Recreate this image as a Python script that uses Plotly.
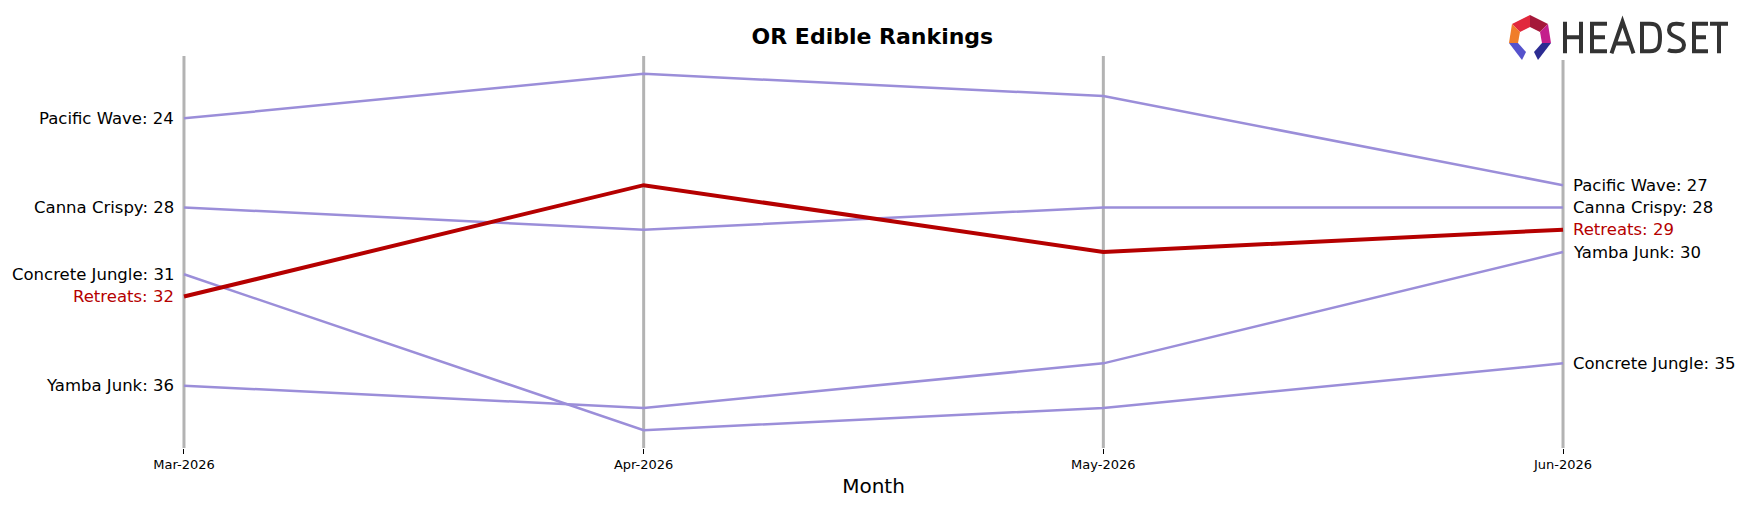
import plotly.graph_objects as go

months = ["Mar-2026", "Apr-2026", "May-2026", "Jun-2026"]
pacific_wave = [24, 22, 23, 27]
canna_crispy = [28, 29, 28, 28]
concrete_jungle = [31, 38, 37, 35]
retreats = [32, 27, 30, 29]
yamba_junk = [36, 37, 35, 30]

series = [
    ("Pacific Wave", pacific_wave),
    ("Canna Crispy", canna_crispy),
    ("Concrete Jungle", concrete_jungle),
    ("Yamba Junk", yamba_junk),
    ("Retreats", retreats),
]
highlight = "Retreats"

W, H = 1746, 507
L, R, T, B = 161, 160, 56, 59
PW, PH = W - L - R, H - T - B

PURPLE = "#9b8ed9"
RED = "#b50000"
FONT = "DejaVu Sans"

def px(x):
    return (x - L) / PW

def py(y):
    return (H - B - y) / PH

xs = list(range(len(months)))
fig = go.Figure()

for name, vals in series:
    hl = name == highlight
    fig.add_trace(go.Scatter(
        x=xs, y=vals, mode="lines", name=name,
        line=dict(color=RED if hl else PURPLE, width=4 if hl else 2.5),
        showlegend=False, hoverinfo="skip",
    ))
    col = RED if hl else "black"
    fig.add_annotation(x=xs[0], y=vals[0], xref="x", yref="y", text=f"{name}: {vals[0]}",
                       showarrow=False, xanchor="right", yanchor="middle", xshift=-8,
                       font=dict(family=FONT, size=16.5, color=col))
    fig.add_annotation(x=xs[-1], y=vals[-1], xref="x", yref="y", text=f"{name}: {vals[-1]}",
                       showarrow=False, xanchor="left", yanchor="middle", xshift=8,
                       font=dict(family=FONT, size=16.5, color=col))

shapes = []
for i in xs:
    shapes.append(dict(type="line", xref="x", yref="paper", x0=i, x1=i, y0=0, y1=1,
                       line=dict(color="#b3b3b3", width=3), layer="below"))

# white box behind logo
shapes.append(dict(type="rect", xref="paper", yref="paper", x0=px(1495), x1=px(1746),
                   y0=py(0), y1=py(60), fillcolor="white", line=dict(width=0), layer="above"))

def poly(pts, color):
    d = "M " + " L ".join(f"{px(a):.5f},{py(b):.5f}" for a, b in pts) + " Z"
    return dict(type="path", xref="paper", yref="paper", path=d, fillcolor=color,
                line=dict(width=0), layer="above")

# logo icon
shapes += [
    poly([(1512, 24), (1530, 15), (1530, 27), (1520, 32)], "#e1283c"),
    poly([(1530, 15), (1548, 24), (1540, 32), (1530, 27)], "#a5183a"),
    poly([(1512, 24), (1520, 32), (1518, 43), (1509, 43)], "#f07d2a"),
    poly([(1548, 24), (1540, 32), (1542, 43), (1551, 43)], "#c41e8c"),
    poly([(1509, 43), (1518, 43), (1526, 52), (1522, 60)], "#5552cc"),
    poly([(1551, 43), (1542, 43), (1534, 52), (1538, 60)], "#2c2c92"),
]

# logo wordmark drawn as strokes (pixel coordinates -> paper)
def P(x, y):
    return f"{px(x):.5f},{py(y):.5f}"

yt, yb = 21.7, 53.3
bt, bb = 23.7, 51.3
ym = 37.3
letters = [
    # H
    f"M {P(1565, yt)} L {P(1565, yb)} M {P(1581, yt)} L {P(1581, yb)} M {P(1565, ym)} L {P(1581, ym)}",
    # E
    f"M {P(1592, yt)} L {P(1592, yb)} M {P(1590, bt)} L {P(1607, bt)} M {P(1592, ym)} L {P(1605, ym)} M {P(1590, bb)} L {P(1607, bb)}",
    # A
    f"M {P(1611.5, yb)} L {P(1622.5, yt)} L {P(1633.5, yb)} M {P(1615.5, 43.5)} L {P(1629.5, 43.5)}",
    # D
    f"M {P(1642, yt)} L {P(1642, yb)} M {P(1640, bt)} L {P(1650, bt)} C {P(1658, bt)} {P(1660, 28)} {P(1660, ym)} "
    f"C {P(1660, 47)} {P(1658, bb)} {P(1650, bb)} L {P(1640, bb)}",
    # S
    f"M {P(1684, 25)} C {P(1681, 23.5)} {P(1678, bt)} {P(1676, bt)} C {P(1671, bt)} {P(1669, 26)} {P(1669, 30)} "
    f"C {P(1669, 34)} {P(1672, 35.5)} {P(1676, 37)} C {P(1681, 39)} {P(1684, 41)} {P(1684, 45)} "
    f"C {P(1684, 49)} {P(1681, bb)} {P(1676, bb)} C {P(1673, bb)} {P(1670, 51)} {P(1668, 50)}",
    # E
    f"M {P(1694, yt)} L {P(1694, yb)} M {P(1692, bt)} L {P(1708, bt)} M {P(1694, ym)} L {P(1706, ym)} M {P(1692, bb)} L {P(1708, bb)}",
    # T
    f"M {P(1710, bt)} L {P(1728, bt)} M {P(1719, yt)} L {P(1719, yb)}",
]
for d in letters:
    shapes.append(dict(type="path", xref="paper", yref="paper", path=d,
                       line=dict(color="#333333", width=4), fillcolor="rgba(0,0,0,0)", layer="above"))

fig.update_layout(
    width=W, height=H,
    margin=dict(l=L, r=R, t=T, b=B),
    paper_bgcolor="white", plot_bgcolor="white",
    shapes=shapes,
    title=dict(text="<b>OR Edible Rankings</b>", x=px(873), xanchor="center",
               y=1 - 36 / H, yanchor="middle", yref="container",
               font=dict(family=FONT, size=22, color="black")),
    xaxis=dict(range=[-0.05, 3.05], tickmode="array", tickvals=xs, ticktext=months,
               showgrid=False, zeroline=False, showline=False,
               ticks="outside", ticklen=4.5, tickwidth=1, tickcolor="black",
               tickfont=dict(family=FONT, size=13, color="black"),
               title=dict(text="Month", font=dict(family=FONT, size=20, color="black"), standoff=7)),
    yaxis=dict(range=[38.8, 21.2], visible=False, showgrid=False, zeroline=False),
)

fig.write_html("out.html")
